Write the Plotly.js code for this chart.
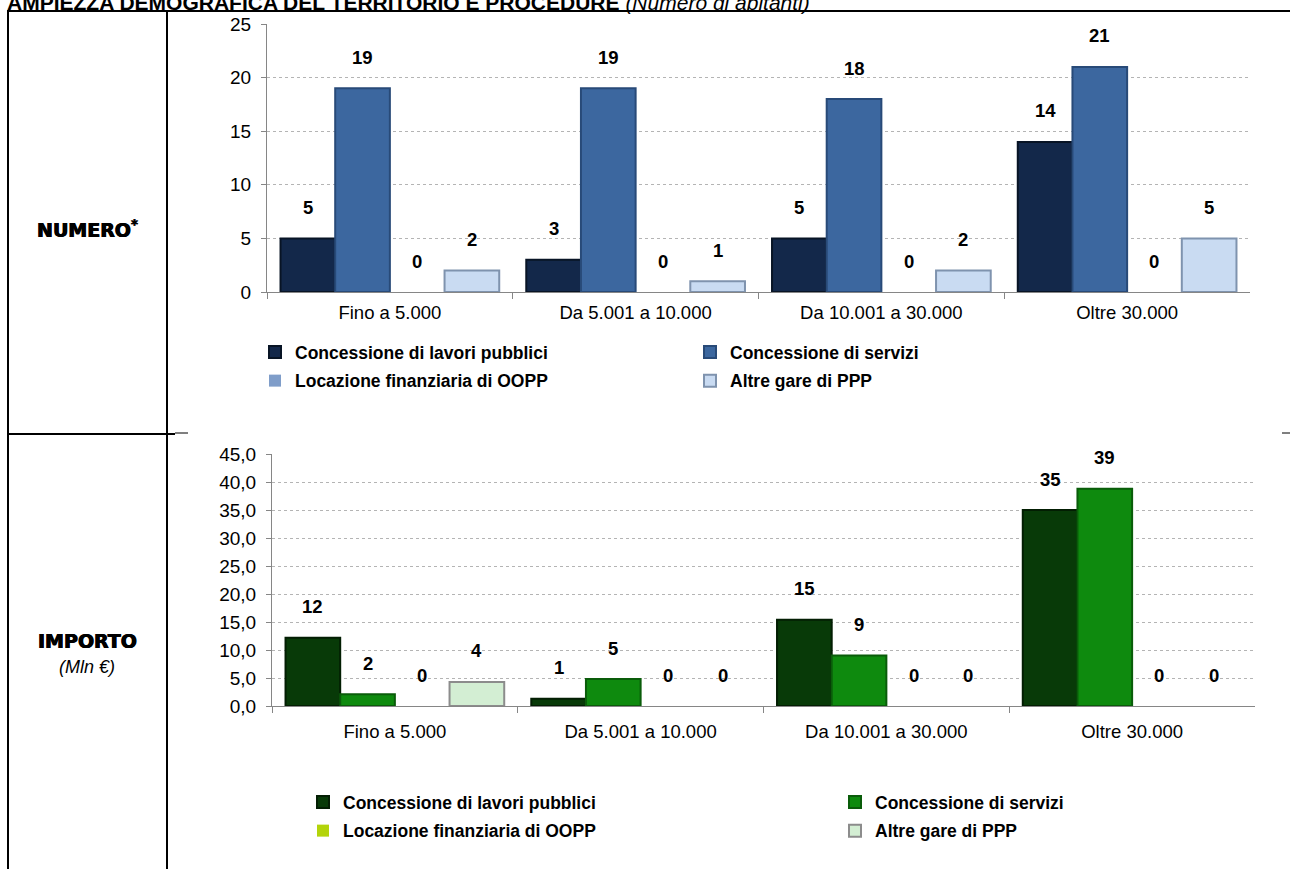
<!DOCTYPE html>
<html>
<head>
<meta charset="utf-8">
<script src="https://cdn.plot.ly/plotly-3.0.1.min.js"></script>
<style>
html,body{margin:0;padding:0;background:#fff;}
#chart{width:1290px;height:869px;}
</style>
</head>
<body>
<div id="chart"></div>
<script>
// ---------- DATA ----------
const categories = ['Fino a 5.000', 'Da 5.001 a 10.000', 'Da 10.001 a 30.000', 'Oltre 30.000'];
const seriesNames = ['Concessione di lavori pubblici', 'Concessione di servizi', 'Locazione finanziaria di OOPP', 'Altre gare di PPP'];

// NUMERO*
const numeroLavori = [5, 3, 5, 14];
const numeroServizi = [19, 19, 18, 21];
const numeroLocazione = [0, 0, 0, 0];
const numeroAltre = [2, 1, 2, 5];

// IMPORTO (Mln €)
const importoLavori = [12.2, 1.3, 15.4, 35.0];
const importoServizi = [2.1, 4.8, 9.0, 38.8];
const importoLocazione = [0, 0, 0, 0];
const importoAltre = [4.3, 0, 0, 0];

const yTicks1 = [0, 5, 10, 15, 20, 25];
const yTicks2 = [0, 5, 10, 15, 20, 25, 30, 35, 40, 45];

// ---------- STYLE ----------
const W = 1290, H = 869;
const px = v => v / W;
const py = v => 1 - v / H;
const FONT = 'Liberation Sans, Arial, sans-serif';
const AXIS = '#868686';
const GRID = '#B4B4B4';
const BARGAP = 0.11;

const colors1 = ['#13284A', '#3C679F', '#7F9DC9', '#C9DBF2'];
const lines1 = ['#081425', '#284A78', '#5A77A0', '#7F93AE'];
const colors2 = ['#083A08', '#0E8A0E', '#B3D40A', '#D3EED3'];
const lines2 = ['#031E03', '#0A5C0A', '#7F9A00', '#8C8C8C'];

const dom1x = [267, 1250], dom1y = [24, 292];
const dom2x = [272, 1255], dom2y = [454, 706];

const numero = [numeroLavori, numeroServizi, numeroLocazione, numeroAltre];
const importo = [importoLavori, importoServizi, importoLocazione, importoAltre];

const legendNames1 = ['legend', 'legend2', 'legend', 'legend2'];
const legendNames2 = ['legend3', 'legend4', 'legend3', 'legend4'];

const traces = [];
numero.forEach((vals, i) => {
  traces.push({
    type: 'bar', x: categories, y: vals, name: seriesNames[i],
    xaxis: 'x', yaxis: 'y', legend: legendNames1[i], legendgroup: 'n' + i,
    marker: {color: colors1[i], line: {color: lines1[i], width: vals.map(v => v ? 2 : 0)}},
    hoverinfo: 'skip'
  });
});
importo.forEach((vals, i) => {
  traces.push({
    type: 'bar', x: categories, y: vals, name: seriesNames[i],
    xaxis: 'x2', yaxis: 'y2', legend: legendNames2[i], legendgroup: 'i' + i,
    marker: {color: colors2[i], line: {color: lines2[i], width: vals.map(v => v ? 2 : 0)}},
    hoverinfo: 'skip'
  });
});

// data labels via annotations placed through the axes
const annotations = [];
function addLabels(sets, xr, yr, dom, shift) {
  const catPx = (dom[1] - dom[0]) / categories.length;
  const barPx = catPx * (1 - BARGAP) / sets.length;
  sets.forEach((vals, i) => {
    vals.forEach((v, j) => {
      annotations.push({
        x: categories[j], y: v, xref: xr, yref: yr,
        xshift: (i - (sets.length - 1) / 2) * barPx, yshift: shift,
        text: String(Math.round(v)), showarrow: false,
        font: {family: FONT, size: 18.5, color: '#000', weight: 'bold'}
      });
    });
  });
}
addLabels(numero, 'x', 'y', dom1x, 31);
addLabels(importo, 'x2', 'y2', dom2x, 31);

// side labels and title
const HEAVY = '0.5px 0 0 #000, -0.5px 0 0 #000';
annotations.push(
  {xref: 'paper', yref: 'paper', x: px(87), y: py(229), xanchor: 'center', yanchor: 'middle',
   text: '<b>NUMERO</b><sup><b>*</b></sup>', showarrow: false,
   font: {family: 'DejaVu Sans, sans-serif', size: 19, color: '#000', shadow: HEAVY}},
  {xref: 'paper', yref: 'paper', x: px(87), y: py(641), xanchor: 'center', yanchor: 'middle',
   text: '<b>IMPORTO</b>', showarrow: false,
   font: {family: 'DejaVu Sans, sans-serif', size: 19, color: '#000', shadow: HEAVY}},
  {xref: 'paper', yref: 'paper', x: px(87), y: py(667), xanchor: 'center', yanchor: 'middle',
   text: '<i>(Mln €)</i>', showarrow: false,
   font: {family: FONT, size: 18, color: '#000'}},
  {xref: 'paper', yref: 'paper', x: px(5), y: py(3), xanchor: 'left', yanchor: 'middle', showarrow: false,
   text: '<b>AMPIEZZA DEMOGRAFICA DEL TERRITORIO E PROCEDURE</b> <i>(Numero di abitanti)</i>',
   font: {family: FONT, size: 21, color: '#000'}}
);

const shapes = [
  {type: 'line', xref: 'paper', yref: 'paper', x0: px(8), x1: px(8), y0: py(11), y1: py(869), line: {color: '#000', width: 2}},
  {type: 'line', xref: 'paper', yref: 'paper', x0: px(167), x1: px(167), y0: py(11), y1: py(869), line: {color: '#000', width: 2}},
  {type: 'line', xref: 'paper', yref: 'paper', x0: px(7), x1: px(1290), y0: py(11), y1: py(11), line: {color: '#000', width: 2}},
  {type: 'line', xref: 'paper', yref: 'paper', x0: px(7), x1: px(175), y0: py(434), y1: py(434), line: {color: '#000', width: 2}},
  {type: 'line', xref: 'paper', yref: 'paper', x0: px(175), x1: px(188), y0: py(433), y1: py(433), line: {color: '#000', width: 1}},
  {type: 'line', xref: 'paper', yref: 'paper', x0: px(1282), x1: px(1290), y0: py(433), y1: py(433), line: {color: '#000', width: 1}}
];

function xAxis(dom, anchor, standoff) {
  return {
    domain: [px(dom[0]), px(dom[1])], anchor: anchor, type: 'category',
    showline: true, linecolor: AXIS, linewidth: 1,
    ticks: 'outside', tickson: 'boundaries', ticklen: 6, tickcolor: AXIS,
    showgrid: false, zeroline: false, fixedrange: true, ticklabelstandoff: standoff,
    tickfont: {family: FONT, size: 18.5, color: '#000'}
  };
}
function yAxis(dom, anchor, range, ticks, fmt) {
  return {
    domain: [py(dom[1]), py(dom[0])], anchor: anchor, range: range,
    tickmode: 'array', tickvals: ticks, tickformat: fmt,
    showline: true, linecolor: AXIS, linewidth: 1,
    ticks: 'outside', ticklen: 5, tickcolor: AXIS,
    showgrid: true, gridcolor: GRID, griddash: 'dot', gridwidth: 1,
    zeroline: false, fixedrange: true, ticklabelstandoff: 6,
    tickfont: {family: FONT, size: 19, color: '#000'}
  };
}

function legendAt(left, top) {
  return {
    x: px(left - 40), y: py(top), xanchor: 'left', yanchor: 'top',
    orientation: 'v', bgcolor: 'rgba(0,0,0,0)', borderwidth: 0,
    tracegroupgap: 3, traceorder: 'grouped',
    font: {family: FONT, size: 17.5, color: '#000', weight: 'bold'}
  };
}

const layout = {
  width: W, height: H,
  margin: {l: 0, r: 0, t: 0, b: 0},
  paper_bgcolor: '#fff', plot_bgcolor: 'rgba(0,0,0,0)',
  separators: ',.',
  barmode: 'group', bargap: BARGAP, bargroupgap: 0,
  showlegend: true,
  xaxis: xAxis(dom1x, 'y', 4),
  yaxis: yAxis(dom1y, 'x', [0, 25], yTicks1, 'd'),
  xaxis2: xAxis(dom2x, 'y2', 9),
  yaxis2: yAxis(dom2y, 'x2', [0, 45], yTicks2, '.1f'),
  legend: legendAt(295, 334),
  legend2: legendAt(730, 334),
  legend3: legendAt(343, 784),
  legend4: legendAt(875, 784),
  annotations: annotations,
  shapes: shapes,
  hovermode: false
};

Plotly.newPlot('chart', traces, layout, {displayModeBar: false, staticPlot: true});
</script>
</body>
</html>
